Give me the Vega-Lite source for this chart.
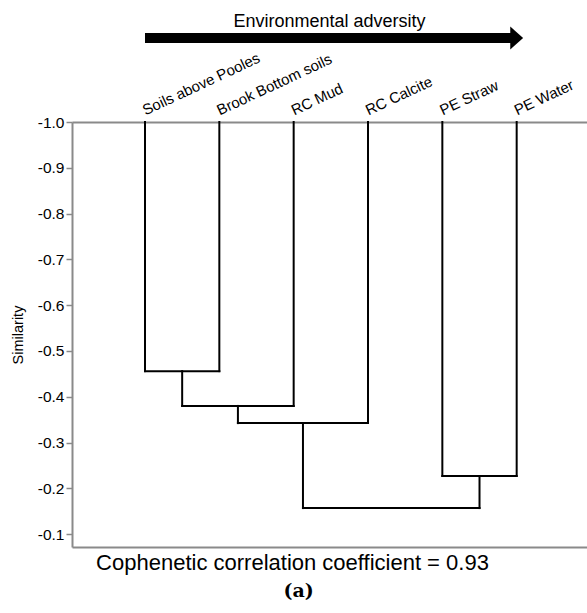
{
  "$schema": "https://vega.github.io/schema/vega-lite/v6.json",
  "padding": {"left": 10, "top": 12, "right": 0, "bottom": 3},
  "spacing": 0,
  "config": {
    "view": {"stroke": null},
    "font": "Liberation Sans",
    "axis": {"labelFont": "Liberation Sans", "titleFont": "Liberation Sans"}
  },
  "title": {
    "text": "(a)",
    "orient": "bottom",
    "anchor": "middle",
    "font": "DejaVu Serif",
    "fontSize": 19,
    "fontWeight": "bold",
    "color": "black",
    "offset": 9
  },
  "datasets": {
    "links": [
      {"x": 1, "x2": 1, "y": -1.0, "y2": -0.456, "dir": "v"},
      {"x": 2, "x2": 2, "y": -1.0, "y2": -0.456, "dir": "v"},
      {"x": 1.5, "x2": 1.5, "y": -0.456, "y2": -0.38, "dir": "v"},
      {"x": 3, "x2": 3, "y": -1.0, "y2": -0.38, "dir": "v"},
      {"x": 2.25, "x2": 2.25, "y": -0.38, "y2": -0.3425, "dir": "v"},
      {"x": 4, "x2": 4, "y": -1.0, "y2": -0.3425, "dir": "v"},
      {"x": 3.125, "x2": 3.125, "y": -0.3425, "y2": -0.157, "dir": "v"},
      {"x": 5, "x2": 5, "y": -1.0, "y2": -0.227, "dir": "v"},
      {"x": 6, "x2": 6, "y": -1.0, "y2": -0.227, "dir": "v"},
      {"x": 5.5, "x2": 5.5, "y": -0.227, "y2": -0.157, "dir": "v"},
      {"x": 1, "x2": 2, "y": -0.456, "y2": -0.456, "dir": "h"},
      {"x": 1.5, "x2": 3, "y": -0.38, "y2": -0.38, "dir": "h"},
      {"x": 2.25, "x2": 4, "y": -0.3425, "y2": -0.3425, "dir": "h"},
      {"x": 5, "x2": 6, "y": -0.227, "y2": -0.227, "dir": "h"},
      {"x": 3.125, "x2": 5.5, "y": -0.157, "y2": -0.157, "dir": "h"}
    ]
  },
  "vconcat": [
    {
      "width": 515,
      "height": 20,
      "data": {"values": [{"from": 1, "to": 6, "level": 0.5}]},
      "title": {
        "text": "Environmental adversity",
        "fontSize": 18,
        "fontWeight": "normal",
        "font": "Liberation Sans",
        "color": "black",
        "anchor": "middle",
        "baseline": "alphabetic",
        "offset": -18
      },
      "layer": [
        {
          "mark": {"type": "rule", "strokeWidth": 10, "color": "black"},
          "encoding": {
            "x": {"field": "from", "type": "quantitative", "scale": {"domain": [0.018, 6.946], "nice": false, "zero": false}, "axis": null},
            "x2": {"field": "to"},
            "y": {"field": "level", "type": "quantitative", "scale": {"domain": [0, 1]}, "axis": null}
          }
        },
        {
          "mark": {"type": "point", "shape": "M -0.56 -1 L 0.56 0 L -0.56 1 Z", "filled": true, "size": 529, "color": "black", "opacity": 1},
          "encoding": {
            "x": {"field": "to", "type": "quantitative", "scale": {"domain": [0.018, 6.946], "nice": false, "zero": false}, "axis": null},
            "y": {"field": "level", "type": "quantitative", "scale": {"domain": [0, 1]}, "axis": null}
          }
        }
      ]
    },
    {
      "width": 515,
      "height": 425,
      "data": {"name": "links"},
      "layer": [
        {
          "transform": [{"filter": "datum.dir == 'v'"}],
          "mark": {"type": "rule", "strokeWidth": 2, "color": "black", "strokeCap": "square"},
          "encoding": {
            "x": {
              "field": "x", "type": "quantitative",
              "scale": {"domain": [0.018, 6.946], "nice": false, "zero": false},
              "axis": {
                "orient": "top", "values": [1, 2, 3, 4, 5, 6],
                "labelExpr": "['', 'Soils above Pooles', 'Brook Bottom soils', 'RC Mud', 'RC Calcite', 'PE Straw', 'PE Water'][datum.value]",
                "labelAngle": -25, "labelAlign": "left", "labelBaseline": "alphabetic", "labelPadding": 7,
                "ticks": false, "domainColor": "#8a8a8a", "domainWidth": 2,
                "labelFontSize": 15, "labelColor": "black", "title": null, "grid": false,
                "labelOverlap": false, "labelBound": false, "labelFlush": false
              }
            },
            "x2": {"field": "x2"},
            "y": {
              "field": "y", "type": "quantitative",
              "scale": {"domain": [-1, -0.072], "reverse": true, "nice": false, "zero": false},
              "axis": {
                "values": [-1, -0.9, -0.8, -0.7, -0.6, -0.5, -0.4, -0.3, -0.2, -0.1],
                "labelExpr": "'-' + format(abs(datum.value), '.1f')",
                "labelFontSize": 15.5, "labelColor": "black", "labelPadding": 2,
                "tickColor": "#8a8a8a", "tickSize": 6, "tickWidth": 1.5,
                "domainColor": "#8a8a8a", "domainWidth": 2,
                "title": "Similarity", "titleFontSize": 14.5, "titleFontWeight": "normal", "titleColor": "black", "titlePadding": 12,
                "grid": false
              }
            },
            "y2": {"field": "y2"}
          }
        },
        {
          "transform": [{"filter": "datum.dir == 'h'"}],
          "mark": {"type": "rule", "strokeWidth": 2, "color": "black", "strokeCap": "square"},
          "encoding": {
            "x": {
              "field": "x", "type": "quantitative",
              "scale": {"domain": [0.018, 6.946], "nice": false, "zero": false},
              "axis": {
                "orient": "bottom", "labels": false, "ticks": false,
                "domainColor": "#8a8a8a", "domainWidth": 2,
                "title": "Cophenetic correlation coefficient = 0.93",
                "titleFontSize": 22, "titleFontWeight": "normal", "titleColor": "black",
                "titlePadding": 5, "titleX": 220, "titleAlign": "center", "grid": false
              }
            },
            "x2": {"field": "x2"},
            "y": {
              "field": "y", "type": "quantitative",
              "scale": {"domain": [-1, -0.072], "reverse": true, "nice": false, "zero": false},
              "axis": {
                "values": [-1, -0.9, -0.8, -0.7, -0.6, -0.5, -0.4, -0.3, -0.2, -0.1],
                "labelExpr": "'-' + format(abs(datum.value), '.1f')",
                "labelFontSize": 15.5, "labelColor": "black", "labelPadding": 2,
                "tickColor": "#8a8a8a", "tickSize": 6, "tickWidth": 1.5,
                "domainColor": "#8a8a8a", "domainWidth": 2,
                "title": "Similarity", "titleFontSize": 14.5, "titleFontWeight": "normal", "titleColor": "black", "titlePadding": 12,
                "grid": false
              }
            },
            "y2": {"field": "y2"}
          }
        }
      ],
      "resolve": {"axis": {"x": "independent"}}
    }
  ]
}
